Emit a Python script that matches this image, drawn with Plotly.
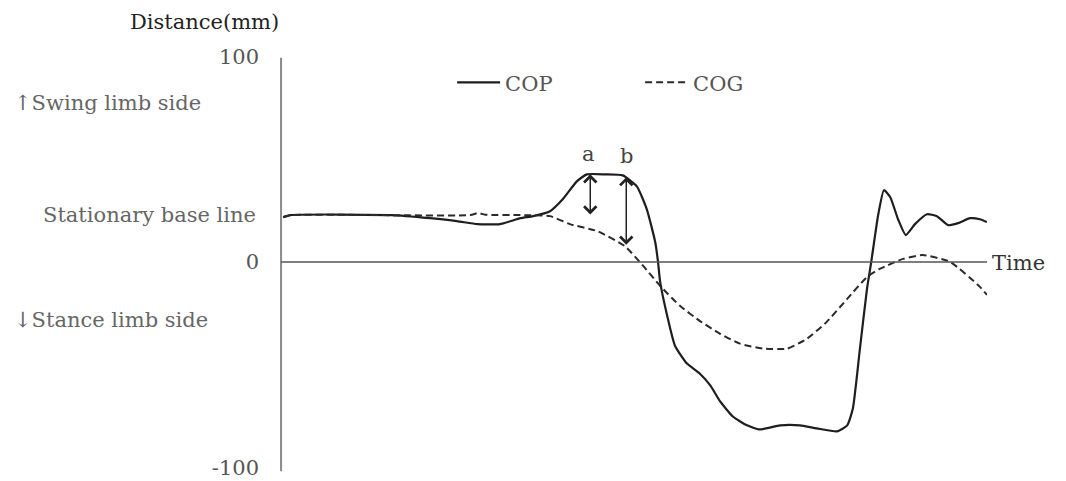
import plotly.graph_objects as go

# ---- data (time in arbitrary units 0-100, distance in mm) ----
time_cop = [0.3, 1.3, 15.7, 21.1, 24.9, 27.8, 31.0, 33.9, 35.7, 38.1, 39.9, 41.9, 43.3,
            45.9, 48.4, 50.4, 51.8, 53.0, 53.4, 53.7, 54.7, 55.8, 57.5, 59.3, 60.8, 62.2,
            64.0, 66.0, 67.8, 70.7, 73.5, 75.9, 78.8, 80.2, 81.0, 82.0, 83.0, 83.6, 84.6,
            85.4, 86.3, 87.4, 88.5, 89.8, 91.5, 92.9, 94.5, 95.9, 97.6, 99.0, 100.0]
cop = [21.8, 22.8, 22.8, 21.3, 19.9, 18.4, 18.4, 21.3, 22.3, 24.7, 30.5, 39.2, 42.6,
       42.6, 42.1, 36.8, 25.7, 9.7, 0.0, -9.7, -26.2, -40.7, -49.4, -54.2, -60.0, -67.8,
       -75.1, -79.4, -81.4, -79.4, -79.4, -80.9, -82.3, -79.4, -71.2, -42.1, -13.1, 0.0, 23.2,
       34.9, 31.5, 20.8, 13.1, 18.4, 23.2, 22.3, 17.9, 18.9, 21.3, 20.8, 19.4]

time_cog = [0.3, 1.3, 26.8, 27.9, 28.9, 33.9, 38.1, 40.9, 44.8, 48.7, 51.3, 53.7, 56.5,
            59.3, 62.2, 65.0, 68.3, 71.7, 74.5, 77.3, 80.2, 83.0, 84.8, 88.1, 90.9, 94.8,
            99.0, 100.0]
cog = [21.8, 22.8, 22.8, 23.8, 23.0, 22.8, 22.3, 18.4, 15.0, 7.7, -1.9, -11.6, -21.3,
       -28.6, -34.9, -39.7, -42.1, -42.1, -37.3, -29.1, -17.9, -7.3, -3.4, 1.5, 3.4, 0.0,
       -12.1, -16.0]

y_ticks = [-100, 0, 100]
y_ticktext = ["-100", "0", "100"]

# arrows a and b: (time, top, bottom)
arrow_a = (43.8, 42.6, 22.4)
arrow_b = (48.9, 41.2, 7.7)

FONT = "DejaVu Serif"
FS = 21

fig = go.Figure()
fig.add_trace(go.Scatter(x=time_cop, y=cop, name="COP", mode="lines",
                         line=dict(color="#1e1e1e", width=2.2, shape="spline", smoothing=0.5)))
fig.add_trace(go.Scatter(x=time_cog, y=cog, name="COG", mode="lines",
                         line=dict(color="#2a2a2a", width=2, dash="7px,4px",
                                   shape="spline", smoothing=0.5)))

# axis lines
fig.add_shape(type="line", xref="x", yref="y", x0=0, x1=0, y0=-101.7, y1=99.3,
              line=dict(color="#8a8a8a", width=2))
fig.add_shape(type="line", xref="x", yref="y", x0=0, x1=100, y0=0, y1=0,
              line=dict(color="#555555", width=1.5))

ann = []
for (t, top, bot) in (arrow_a, arrow_b):
    ann.append(dict(x=t, y=top, ax=t, ay=bot, xref="x", yref="y", axref="x", ayref="y",
                    text="", showarrow=True, arrowhead=4, arrowside="end+start",
                    arrowsize=1.6, arrowwidth=1.5, arrowcolor="#222"))
ann += [
    dict(x=43.5, y=52.3, text="a", showarrow=False, xref="x", yref="y",
         font=dict(family=FONT, size=FS, color="#444")),
    dict(x=49.0, y=51.3, text="b", showarrow=False, xref="x", yref="y",
         font=dict(family=FONT, size=FS, color="#444")),
    dict(x=-0.0968, y=1.0553, text="Distance(mm)", showarrow=False, xref="paper",
         yref="paper", xanchor="center", yanchor="middle",
         font=dict(family=FONT, size=FS, color="#222")),
    dict(x=-0.3675, y=0.8687, text="↑Swing limb side", showarrow=False, xref="paper",
         yref="paper", xanchor="left", yanchor="middle",
         font=dict(family=FONT, size=FS, color="#666")),
    dict(x=-0.0224, y=0.6083, text="Stationary base line", showarrow=False, xref="paper",
         yref="paper", xanchor="right", yanchor="middle",
         font=dict(family=FONT, size=FS, color="#666")),
    dict(x=-0.3675, y=0.3664, text="↓Stance limb side", showarrow=False, xref="paper",
         yref="paper", xanchor="left", yanchor="middle",
         font=dict(family=FONT, size=FS, color="#666")),
    dict(x=1.0042, y=0.4977, text="Time", showarrow=False, xref="paper", yref="paper",
         xanchor="left", yanchor="middle", font=dict(family=FONT, size=FS, color="#333")),
]

fig.update_layout(
    width=1066, height=481,
    margin=dict(l=274, r=79, t=46, b=1),
    paper_bgcolor="white", plot_bgcolor="white",
    annotations=ann,
    showlegend=True,
    legend=dict(orientation="h", x=0.2498, y=0.915, xanchor="left", yanchor="middle",
                entrywidth=130, entrywidthmode="pixels", itemwidth=43,
                font=dict(family=FONT, size=FS, color="#555"), bgcolor="rgba(0,0,0,0)"),
    xaxis=dict(range=[-1, 100], visible=False, fixedrange=True),
    yaxis=dict(range=[-105, 105], tickvals=y_ticks, ticktext=y_ticktext, showgrid=False,
               zeroline=False, showline=False, ticks="", ticklabelstandoff=14,
               ticklabeloverflow="allow",
               tickfont=dict(family=FONT, size=FS, color="#555")),
)

fig.write_html("out.html")
